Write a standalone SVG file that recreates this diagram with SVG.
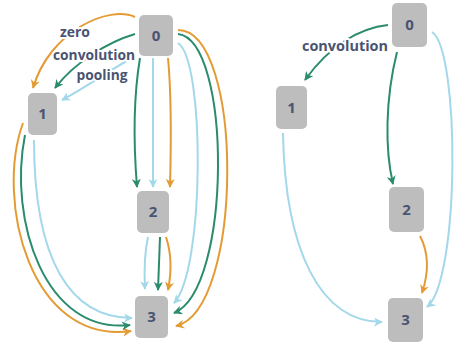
<svg xmlns="http://www.w3.org/2000/svg" width="455" height="345" viewBox="0 0 455 345">
<style>
.node rect{fill:#bdbdbd}
.node text{font-family:"Open Sans","Liberation Sans",sans-serif;font-weight:700;font-size:15px;fill:#4a5472;text-anchor:middle}
.e{fill:none;stroke-width:2}
.o{stroke:#e49b33;marker-end:url(#ao)}
.g{stroke:#2a8c6c;marker-end:url(#ag)}
.b{stroke:#a3d8ea;marker-end:url(#ab)}
.lbl{font-family:"Open Sans","Liberation Sans",sans-serif;font-weight:700;font-size:14px;fill:#4a5472;text-anchor:middle;stroke:#fff;stroke-width:4;paint-order:stroke;stroke-linejoin:round}
</style>
<defs>
<marker id="ao" viewBox="0 0 10 10" refX="9" refY="5" markerWidth="9" markerHeight="9" markerUnits="userSpaceOnUse" orient="auto"><path d="M0,0 L10,5 L0,10 L3,5 z" fill="#e49b33"/></marker>
<marker id="ag" viewBox="0 0 10 10" refX="9" refY="5" markerWidth="9" markerHeight="9" markerUnits="userSpaceOnUse" orient="auto"><path d="M0,0 L10,5 L0,10 L3,5 z" fill="#2a8c6c"/></marker>
<marker id="ab" viewBox="0 0 10 10" refX="9" refY="5" markerWidth="9" markerHeight="9" markerUnits="userSpaceOnUse" orient="auto"><path d="M0,0 L10,5 L0,10 L3,5 z" fill="#a3d8ea"/></marker>
</defs>
<g id="connectors">
<!-- left 0->1 -->
<path class="e o" d="M135,17 C110,5 50,30 33,88"/>
<path class="e g" d="M135,34 C108,42 75,62 55,88"/>
<path class="e b" d="M132,58 C110,70 85,88 62,100"/>
<!-- left 0->2 -->
<path class="e g" d="M140,58 C133,100 134,150 137,187"/>
<path class="e b" d="M153,58 L153,187"/>
<path class="e o" d="M168,58 C172,100 171,150 170,187"/>
<!-- left 0->3 -->
<path class="e b" d="M178,43 C205,60 205,270 174,303"/>
<path class="e g" d="M178,34 C232,40 232,290 174,313"/>
<path class="e o" d="M178,30 C244,30 244,310 176,326"/>
<!-- left 2->3 -->
<path class="e b" d="M148,237 C144,255 144,270 145,289"/>
<path class="e g" d="M160,237 L158,290"/>
<path class="e o" d="M166,237 C172,255 171,275 168,290"/>
<!-- left 1->3 -->
<path class="e o" d="M23,123 C-5,200 30,345 131,331"/>
<path class="e g" d="M25,135 C8,220 45,335 130,325"/>
<path class="e b" d="M34,140 C34,260 70,318 132,318"/>
<!-- right -->
<path class="e g" d="M388,25 C360,28 330,45 305,80"/>
<path class="e g" d="M397,52 C385,100 385,150 393,184"/>
<path class="e b" d="M432,32 C460,50 460,280 427,307"/>
<path class="e o" d="M420,236 C430,255 428,275 422,293"/>
<path class="e b" d="M283,133 C285,250 320,322 382,322"/>
<!-- labels -->
<text class="lbl" x="75" y="37" textLength="30" lengthAdjust="spacingAndGlyphs">zero</text>
<text class="lbl" x="94" y="60" textLength="82" lengthAdjust="spacingAndGlyphs">convolution</text>
<text class="lbl" x="102" y="80" textLength="51" lengthAdjust="spacingAndGlyphs">pooling</text>
<text class="lbl" x="345" y="51" textLength="86" lengthAdjust="spacingAndGlyphs">convolution</text>
</g>
<g id="L0" class="node"><rect x="139" y="15" width="34" height="41" rx="5"/><text x="156" y="41">0</text></g>
<g id="L1" class="node"><rect x="28" y="93" width="29" height="42" rx="5"/><text x="42.5" y="119">1</text></g>
<g id="L2" class="node"><rect x="137" y="191" width="32" height="42" rx="5"/><text x="153" y="217">2</text></g>
<g id="L3" class="node"><rect x="135" y="296" width="33" height="42" rx="5"/><text x="151.5" y="322">3</text></g>
<g id="R0" class="node"><rect x="392" y="3" width="35" height="44" rx="5"/><text x="409.5" y="30">0</text></g>
<g id="R1" class="node"><rect x="276" y="86" width="31" height="43" rx="5"/><text x="291.5" y="113">1</text></g>
<g id="R2" class="node"><rect x="389" y="187" width="35" height="45" rx="5"/><text x="406.5" y="215">2</text></g>
<g id="R3" class="node"><rect x="388" y="298" width="35" height="44" rx="5"/><text x="405.5" y="325">3</text></g>
</svg>
